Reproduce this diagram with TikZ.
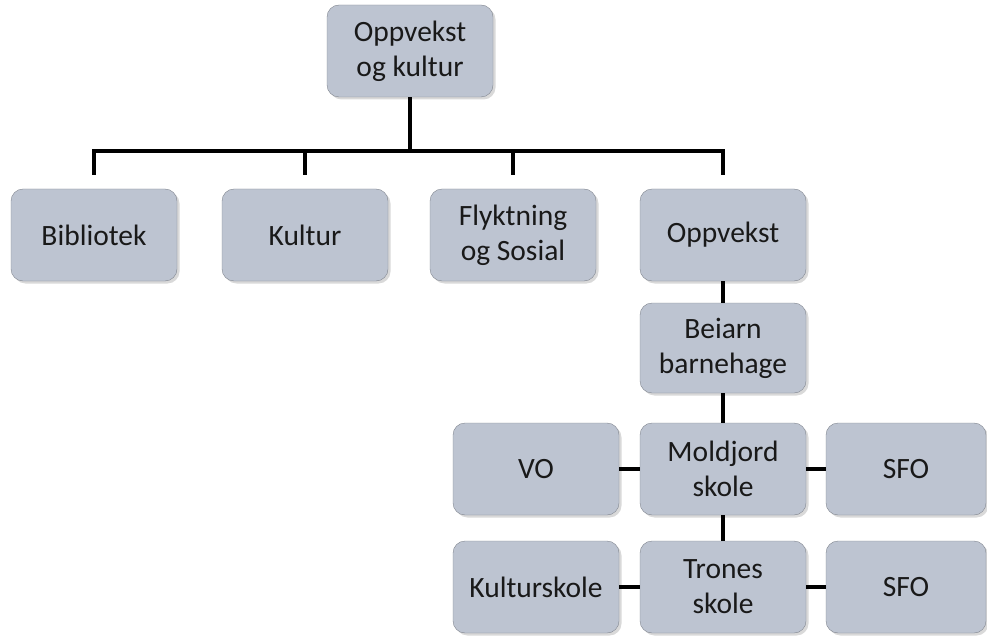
\documentclass[tikz,border=0pt]{standalone}
\usepackage{fontspec}
\setmainfont{Carlito}
\usetikzlibrary{shadows}
\definecolor{boxfill}{RGB}{189,196,209}
\definecolor{boxline}{RGB}{128,133,143}
\definecolor{boxtext}{RGB}{25,25,25}

\begin{document}
\begin{tikzpicture}[x=1pt,y=-1pt,
  unit/.style={draw=boxline,fill=boxfill,rounded corners=12pt,minimum width=166pt,minimum height=92pt,
    align=center,text=boxtext,font=\fontsize{29.5}{35}\selectfont,inner sep=4pt,
    drop shadow={shadow xshift=2.5pt,shadow yshift=-2.5pt,opacity=0.3}},
  link/.style={line width=3.5pt}]
\useasboundingbox (0,0) rectangle (987,636);
% top
\node[unit](ok) at (410,51){Oppvekst\\og kultur};
\coordinate (bar) at (410,151);
% second row
\node[unit](bib) at (94,235){Bibliotek};
\node[unit](kul) at (305,235){Kultur};
\node[unit](fly) at (513,235){Flyktning\\og Sosial};
\node[unit](opp) at (723,235){Oppvekst};
% under Oppvekst
\node[unit,minimum height=90pt](bei) at (723,348){Beiarn\\barnehage};
\node[unit](mol) at (723,469){Moldjord\\skole};
\node[unit](vo) at (536,469){VO};
\node[unit,minimum width=160pt](sfoa) at (906,469){SFO};
\node[unit](tro) at (723,587){Trones\\skole};
\node[unit](kuls) at (536,587){Kulturskole};
\node[unit,minimum width=160pt](sfob) at (906,587){SFO};
% connectors
\draw[link] (ok) -- (bar);
\foreach \n in {bib,kul,fly,opp}
  \draw[link] ([yshift=14pt]\n.north) |- (bar);
\draw[link] (opp) -- (bei);
\draw[link] (bei) -- (mol);
\draw[link] (mol) -- (tro);
\draw[link] (vo) -- (mol);
\draw[link] (mol) -- (sfoa);
\draw[link] (kuls) -- (tro);
\draw[link] (tro) -- (sfob);
\end{tikzpicture}
\end{document}
